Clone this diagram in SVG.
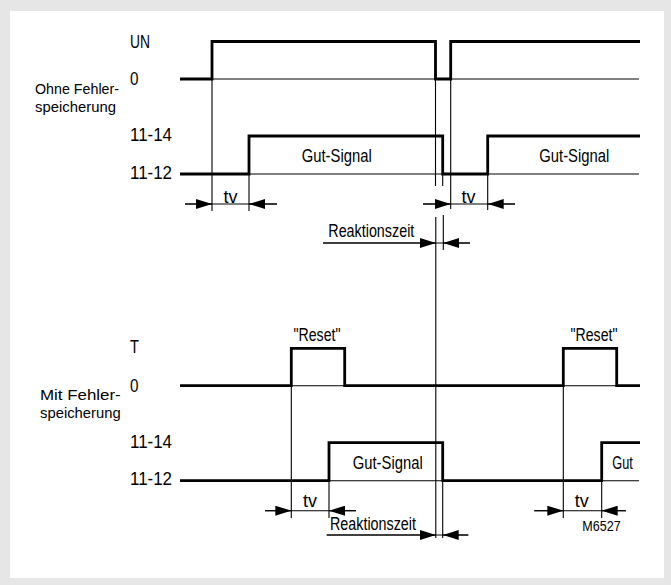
<svg xmlns="http://www.w3.org/2000/svg" width="671" height="585" viewBox="0 0 671 585">
<style>
text{font-family:"Liberation Sans",Arial,sans-serif;font-size:17.5px;fill:#000}
.m{text-anchor:middle}
.sig{fill:none;stroke:#000;stroke-width:2.8;stroke-linejoin:miter;stroke-linecap:butt}
.th{fill:none;stroke:#000;stroke-width:1.1}
.ar{fill:none;stroke:#000;stroke-width:1.1;marker-end:url(#ah)}
</style>
<defs>
<marker id="ah" markerUnits="userSpaceOnUse" markerWidth="16" markerHeight="10" refX="16" refY="5" orient="auto">
<path d="M0,0 L16,5 L0,10 z" fill="#000"/>
</marker>
</defs>
<rect x="0" y="0" width="671" height="585" fill="#e6e6e6"/>
<rect x="10" y="11" width="654" height="567" fill="#fff"/>

<g id="labels-top">
<text x="130" y="47.5" textLength="20" lengthAdjust="spacingAndGlyphs">UN</text>
<text x="130" y="85" textLength="8.5" lengthAdjust="spacingAndGlyphs">0</text>
<text transform="translate(35,94) scale(0.84,0.88)" textLength="100" lengthAdjust="spacingAndGlyphs">Ohne Fehler-</text>
<text transform="translate(35,111.5) scale(0.84,0.88)" textLength="96.4" lengthAdjust="spacingAndGlyphs">speicherung</text>
<text x="130" y="141" textLength="42" lengthAdjust="spacingAndGlyphs">11-14</text>
<text x="130" y="178.5" textLength="42" lengthAdjust="spacingAndGlyphs">11-12</text>
<text x="301.7" y="161.5" textLength="70" lengthAdjust="spacingAndGlyphs">Gut-Signal</text>
<text x="539.3" y="161.5" textLength="70" lengthAdjust="spacingAndGlyphs">Gut-Signal</text>
<text class="m" x="230.5" y="202.5" textLength="14" lengthAdjust="spacingAndGlyphs">tv</text>
<text class="m" x="468.5" y="202.5" textLength="14" lengthAdjust="spacingAndGlyphs">tv</text>
<text x="328.3" y="237" textLength="86" lengthAdjust="spacingAndGlyphs">Reaktionszeit</text>
</g>

<g id="labels-bottom">
<text x="130" y="352.5" textLength="9" lengthAdjust="spacingAndGlyphs">T</text>
<text x="130" y="391.5" textLength="8.5" lengthAdjust="spacingAndGlyphs">0</text>
<text transform="translate(40,400.3) scale(0.84,0.88)" textLength="96.1" lengthAdjust="spacingAndGlyphs">Mit Fehler-</text>
<text transform="translate(40,417.8) scale(0.84,0.88)" textLength="96.1" lengthAdjust="spacingAndGlyphs">speicherung</text>
<text x="130" y="447.7" textLength="42" lengthAdjust="spacingAndGlyphs">11-14</text>
<text x="130" y="485.3" textLength="42" lengthAdjust="spacingAndGlyphs">11-12</text>
<text class="m" x="317" y="340.5" textLength="47" lengthAdjust="spacingAndGlyphs">"Reset"</text>
<text class="m" x="594" y="340.5" textLength="47" lengthAdjust="spacingAndGlyphs">"Reset"</text>
<text x="352.7" y="469.3" textLength="70" lengthAdjust="spacingAndGlyphs">Gut-Signal</text>
<text x="612.3" y="469.3" textLength="20.5" lengthAdjust="spacingAndGlyphs">Gut</text>
<text class="m" x="310" y="506.7" textLength="14" lengthAdjust="spacingAndGlyphs">tv</text>
<text class="m" x="581.7" y="506.7" textLength="14" lengthAdjust="spacingAndGlyphs">tv</text>
<text x="330" y="529.5" textLength="86" lengthAdjust="spacingAndGlyphs">Reaktionszeit</text>
<text x="582.3" y="530.5" style="font-size:15px" textLength="38.4" lengthAdjust="spacingAndGlyphs">M6527</text>
</g>

<g id="connectors">
<path class="th" d="M212,79 H639 M180,174 H639 M180,385.7 H639 M180,480.7 H639"/>
<path class="th" d="M212,41.5 V211 M249,136 V211 M435.5,41.5 V186 M442.7,136 V186 M450.7,41.5 V209 M487.7,136 V210"/>
<path class="th" d="M435.8,217 V538 M443.3,215 V250"/>
<path class="th" d="M291.3,348.3 V518 M329,442.7 V518 M442.7,442.7 V538 M563.3,348.3 V518 M601.7,442.7 V518"/>
<path class="th" d="M185,204 H277 M423,204 H515 M323,243 H470"/>
<path class="ar" d="M185,204 H212"/>
<path class="ar" d="M277,204 H249"/>
<path class="ar" d="M423,204 H450.7"/>
<path class="ar" d="M515,204 H487.7"/>
<path class="ar" d="M323,243 H435.8"/>
<path class="ar" d="M470,243 H443.3"/>
<path class="th" d="M265,510.7 H356 M534.3,510.7 H626 M326.7,535 H468.3"/>
<path class="ar" d="M265,510.7 H291.3"/>
<path class="ar" d="M356,510.7 H329"/>
<path class="ar" d="M534.3,510.7 H563.3"/>
<path class="ar" d="M626,510.7 H601.7"/>
<path class="ar" d="M326.7,535 H435.8"/>
<path class="ar" d="M468.3,535 H442.7"/>
</g>

<g id="signal-UN"><path class="sig" d="M180,79 H212 V41.5 H435.5 V79 H450.7 V41.5 H640"/></g>
<g id="signal-relay-top"><path class="sig" d="M180,174 H249 V136 H442.7 V174 H487.7 V136 H640"/></g>
<g id="signal-T"><path class="sig" d="M180,385.7 H291.3 V348.3 H344.7 V385.7 H563.3 V348.3 H616.7 V385.7 H640"/></g>
<g id="signal-relay-bottom"><path class="sig" d="M180,480.7 H329 V442.7 H442.7 V480.7 H601.7 V442.7 H640"/></g>
</svg>
